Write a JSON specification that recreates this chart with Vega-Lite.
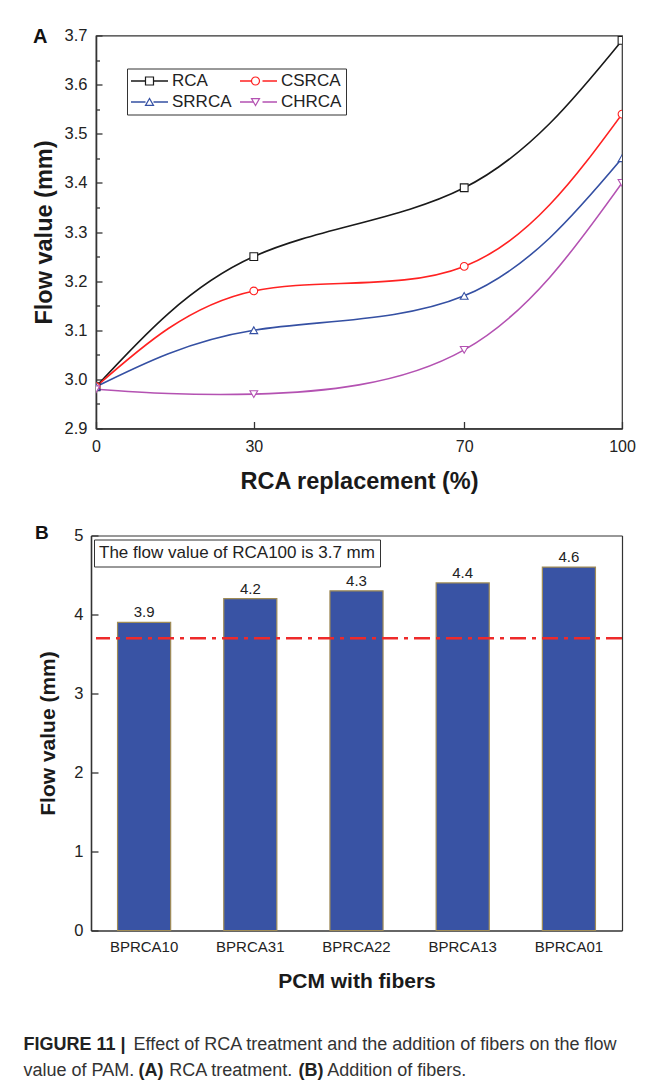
{
  "$schema": "https://vega.github.io/schema/vega-lite/v6.json",
  "background": "white",
  "padding": {"left": 23, "top": 26.5, "right": 5, "bottom": 5},
  "spacing": 29,
  "resolve": {"scale": {"color": "independent", "shape": "independent", "stroke": "independent"}, "legend": {"color": "independent", "shape": "independent", "stroke": "independent"}},
  "config": {
    "font": "Liberation Sans",
    "view": {"stroke": "#333", "strokeWidth": 1.2},
    "axis": {"domainColor": "#333", "domainWidth": 1.6, "tickColor": "#333", "tickWidth": 1.3, "labelColor": "#222", "titleColor": "#1a1a1a", "grid": false, "labelFont": "Liberation Sans", "titleFont": "Liberation Sans", "titleFontWeight": "bold", "labelFlush": false, "labelOverlap": false},
    "legend": {"labelFont": "Liberation Sans", "gridAlign": "none"}
  },
  "title": {
    "text": ["FIGURE 11 |", "\u200b\u00a0\u00a0\u00a0\u00a0\u00a0\u00a0\u00a0\u00a0\u00a0\u00a0\u00a0\u00a0\u00a0\u00a0\u00a0\u00a0\u00a0\u00a0\u00a0\u00a0\u00a0\u00a0\u00a0(A)\u00a0\u00a0\u00a0\u00a0\u00a0\u00a0\u00a0\u00a0\u00a0\u00a0\u00a0\u00a0\u00a0\u00a0\u00a0\u00a0\u00a0\u00a0\u00a0\u00a0\u00a0\u00a0\u00a0\u00a0\u00a0\u00a0\u00a0(B)"],
    "subtitle": ["\u200b\u00a0\u00a0\u00a0\u00a0\u00a0\u00a0\u00a0\u00a0\u00a0\u00a0\u00a0\u00a0\u00a0\u00a0\u00a0\u00a0\u00a0\u00a0\u00a0\u00a0\u00a0\u00a0Effect of RCA treatment and the addition of fibers on the flow", "value of PAM.\u00a0\u00a0\u00a0\u00a0\u00a0\u00a0\u00a0RCA treatment.\u00a0\u00a0\u00a0\u00a0\u00a0\u00a0\u00a0Addition of fibers."],
    "orient": "bottom",
    "anchor": "start",
    "frame": "bounds",
    "dx": -8,
    "offset": 44,
    "font": "Liberation Sans",
    "subtitleFont": "Liberation Sans",
    "fontSize": 18,
    "subtitleFontSize": 18,
    "fontWeight": "bold",
    "subtitleFontWeight": "normal",
    "lineHeight": 26,
    "subtitleLineHeight": 26,
    "subtitlePadding": -44,
    "color": "#222",
    "subtitleColor": "#333"
  },
  "vconcat": [
    {
      "width": 526,
      "height": 393,
      "title": {"text": "A", "anchor": "start", "frame": "group", "dx": -63, "dy": 19.7, "offset": 0, "fontSize": 20, "fontWeight": "bold", "color": "#111"},
      "data": {"values": [
        {"series": "RCA", "pct": 0, "flow": 2.985},
        {"series": "RCA", "pct": 30, "flow": 3.25},
        {"series": "RCA", "pct": 70, "flow": 3.39},
        {"series": "RCA", "pct": 100, "flow": 3.69},
        {"series": "CSRCA", "pct": 0, "flow": 2.985},
        {"series": "CSRCA", "pct": 30, "flow": 3.18},
        {"series": "CSRCA", "pct": 70, "flow": 3.23},
        {"series": "CSRCA", "pct": 100, "flow": 3.54},
        {"series": "SRRCA", "pct": 0, "flow": 2.985},
        {"series": "SRRCA", "pct": 30, "flow": 3.10},
        {"series": "SRRCA", "pct": 70, "flow": 3.17},
        {"series": "SRRCA", "pct": 100, "flow": 3.45},
        {"series": "CHRCA", "pct": 0, "flow": 2.98},
        {"series": "CHRCA", "pct": 30, "flow": 2.97},
        {"series": "CHRCA", "pct": 70, "flow": 3.06},
        {"series": "CHRCA", "pct": 100, "flow": 3.40}
      ]},
      "encoding": {
        "x": {"field": "pct", "type": "quantitative", "scale": {"domain": [0, 100], "nice": false, "zero": false},
          "axis": {"values": [0, 30, 70, 100], "format": "d", "title": "RCA replacement (%)", "tickSize": -7, "labelPadding": 17, "titlePadding": 15, "labelFontSize": 16, "titleFontSize": 23.5}},
        "y": {"field": "flow", "type": "quantitative", "scale": {"domain": [2.9, 3.7], "nice": false, "zero": false},
          "axis": {"values": [2.9, 2.95, 3.0, 3.05, 3.1, 3.15, 3.2, 3.25, 3.3, 3.35, 3.4, 3.45, 3.5, 3.55, 3.6, 3.65, 3.7],
            "labelExpr": "abs(datum.value*10 - round(datum.value*10)) < 0.01 ? format(datum.value, '.1f') : ''",
            "tickSize": {"condition": {"test": "abs(datum.value*10 - round(datum.value*10)) > 0.01", "value": -3.5}, "value": -6},
            "title": "Flow value (mm)", "labelPadding": 15, "titlePadding": 8, "labelFontSize": 16.5, "titleFontSize": 23.5}}
      },
      "layer": [
        {"mark": {"type": "line", "interpolate": "natural", "strokeWidth": 1.6, "clip": true},
          "encoding": {
            "stroke": {"field": "series", "type": "nominal", "sort": ["RCA", "CSRCA", "SRRCA", "CHRCA"],
              "scale": {"range": ["#1a1a1a", "#ff2222", "#3550a3", "#b452b2"]},
              "legend": {"orient": "none", "legendX": 31, "legendY": 33, "direction": "horizontal", "columns": 2, "gridAlign": "none", "title": null,
                "labelFontSize": 17, "labelColor": "#222", "symbolType": "M-4.625,0L-1,0M1,0L4.625,0", "symbolSize": 64, "symbolOffset": 10, "labelOffset": 14,
                "symbolStrokeWidth": 1.5, "rowPadding": 3, "columnPadding": 5, "padding": 4, "strokeColor": "#333", "labelLimit": 200}}
          }},
        {"mark": {"type": "point", "filled": false, "fill": "white", "size": 60, "strokeWidth": 1.1, "opacity": 1, "clip": true},
          "encoding": {
            "color": {"field": "series", "type": "nominal",
              "scale": {"domain": ["RCA", "CSRCA", "SRRCA", "CHRCA"], "range": ["#1a1a1a", "#ff2222", "#3550a3", "#b452b2"]},
              "legend": {"orient": "none", "legendX": 31, "legendY": 33, "direction": "horizontal", "columns": 2, "gridAlign": "none", "title": null,
                "labelFontSize": 17, "labelOpacity": 0, "symbolSize": 64, "symbolOffset": 10, "labelOffset": 14,
                "symbolStrokeWidth": 1.2, "symbolFillColor": "white", "rowPadding": 3, "columnPadding": 5, "padding": 4, "labelLimit": 200}},
            "shape": {"field": "series", "type": "nominal",
              "scale": {"domain": ["RCA", "CSRCA", "SRRCA", "CHRCA"], "range": ["square", "circle", "triangle-up", "triangle-down"]},
              "legend": {"orient": "none", "legendX": 31, "legendY": 33, "direction": "horizontal", "columns": 2, "gridAlign": "none", "title": null,
                "labelFontSize": 17, "labelOpacity": 0, "symbolSize": 64, "symbolOffset": 10, "labelOffset": 14,
                "symbolStrokeWidth": 1.2, "symbolFillColor": "white", "rowPadding": 3, "columnPadding": 5, "padding": 4, "labelLimit": 200}}
          }}
      ]
    },
    {
      "width": 526,
      "height": 395,
      "view": {"stroke": null},
      "title": {"text": "B", "anchor": "start", "frame": "group", "dx": -61, "dy": 15.8, "offset": 0, "fontSize": 19, "fontWeight": "bold", "color": "#111"},
      "layer": [
        {
          "data": {"values": [
            {"mix": "BPRCA10", "flow": 3.9},
            {"mix": "BPRCA31", "flow": 4.2},
            {"mix": "BPRCA22", "flow": 4.3},
            {"mix": "BPRCA13", "flow": 4.4},
            {"mix": "BPRCA01", "flow": 4.6}
          ]},
          "encoding": {
            "x": {"field": "mix", "type": "nominal", "sort": null, "scale": {"paddingInner": 0.5, "paddingOuter": 0.25, "range": [-5, 526]},
              "axis": {"orient": "bottom", "labelAngle": 0, "title": "PCM with fibers", "tickSize": -7, "labelPadding": 16, "titlePadding": 16, "labelFontSize": 15, "titleFontSize": 21}},
            "y": {"field": "flow", "type": "quantitative", "scale": {"domain": [0, 5], "nice": false},
              "axis": {"orient": "left", "values": [0, 1, 2, 3, 4, 5], "format": "d", "title": "Flow value (mm)", "offset": 5, "tickSize": -7, "labelPadding": 15, "titlePadding": 15, "labelFontSize": 16.5, "titleFontSize": 21}}
          },
          "layer": [
            {"mark": {"type": "bar", "fill": "#3953a4", "stroke": "#a08c56", "strokeWidth": 1.2}},
            {"mark": {"type": "text", "baseline": "alphabetic", "dy": -5, "fontSize": 15, "color": "#222"},
              "encoding": {
                "x": {"field": "mix", "type": "nominal", "sort": null, "axis": {"orient": "top", "labels": false, "ticks": false, "title": null, "domainWidth": 1.2}},
                "text": {"field": "flow", "type": "quantitative", "format": ".1f"}}}
          ]
        },
        {
          "data": {"values": [{"ref": 3.7, "note": "The flow value of RCA100 is 3.7 mm"}]},
          "mark": {"type": "rule", "strokeWidth": 2.6, "strokeDash": [16, 6, 4, 6]},
          "encoding": {
            "y": {"field": "ref", "type": "quantitative", "axis": {"orient": "right", "labels": false, "ticks": false, "title": null, "domainWidth": 1.2}},
            "color": {"field": "note", "type": "nominal", "scale": {"range": ["#ee2a2a"]},
              "legend": {"orient": "none", "legendX": -2, "legendY": 4, "title": null, "symbolSize": 0, "symbolOpacity": 0, "symbolStrokeWidth": 0,
                "labelOffset": -17, "labelFontSize": 17, "labelColor": "#222", "labelLimit": 500, "padding": 5, "strokeColor": "#333", "fillColor": "white"}}
          }
        }
      ]
    }
  ]
}
